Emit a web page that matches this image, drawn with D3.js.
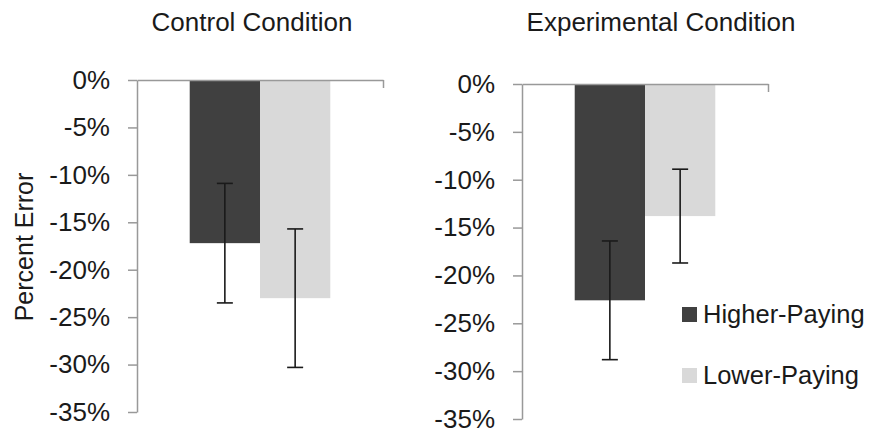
<!DOCTYPE html>
<html>
<head>
<meta charset="utf-8">
<script src="https://cdn.jsdelivr.net/npm/d3@7"></script>
<style>
  body { margin: 0; background: #fff; }
  svg { display: block; font-family: "Liberation Sans", Arial, sans-serif; }
</style>
</head>
<body>
<svg id="chart" width="872" height="430"></svg>
<script>
(function() {
  'use strict';

  // data (percent error)
  var conditions = ['Control Condition', 'Experimental Condition'];
  var groups = ['Higher-Paying', 'Lower-Paying'];
  var means = [[-17.2, -23.0], [-22.6, -13.8]];
  var errors = [[6.3, 7.3], [6.2, 4.9]];
  var yTicks = [0, -5, -10, -15, -20, -25, -30, -35];
  var colors = ['#404040', '#d9d9d9'];

  // panel layout
  var panels = [
    {left: 137, right: 383, top: 80, bottom: 412, titleX: 252},
    {left: 522, right: 768, top: 84, bottom: 419, titleX: 661}
  ];

  var svg = d3.select('#chart');

  var color = d3.scaleOrdinal().domain(groups).range(colors);

  panels.forEach(function(p, ci) {
    var y = d3.scaleLinear().domain([-35, 0]).range([p.bottom, p.top]);
    var x = d3.scaleBand().domain(groups).range([p.left, p.right])
        .paddingInner(0).paddingOuter(0.75);
    var g = svg.append('g');

    // title
    g.append('text')
        .attr('x', p.titleX)
        .attr('y', 31)
        .attr('text-anchor', 'middle')
        .attr('fill', '#1a1a1a')
        .style('font-size', '26px')
        .text(conditions[ci]);

    // bars
    g.selectAll('rect.bar')
        .data(groups)
      .enter().append('rect')
        .attr('class', 'bar')
        .attr('x', function(d) { return x(d); })
        .attr('width', x.bandwidth())
        .attr('y', y(0))
        .attr('height', function(d, i) { return y(means[ci][i]) - y(0); })
        .attr('fill', function(d) { return color(d); });

    // y axis
    var yAxis = g.append('g')
        .attr('transform', 'translate(' + p.left + ',0)')
        .call(d3.axisLeft(y).tickValues(yTicks)
          .tickSizeInner(9).tickSizeOuter(0).tickPadding(18)
          .tickFormat(function(d) { return d + '%'; }));
    yAxis.select('.domain').attr('stroke', '#999').attr('stroke-width', 1.5);
    yAxis.selectAll('.tick line').attr('stroke', '#999').attr('stroke-width', 1.5);
    yAxis.selectAll('.tick text')
        .attr('fill', '#1a1a1a')
        .style('font-size', '26px')
        .style('font-family', '"Liberation Sans", Arial, sans-serif');

    // category axis along 0%
    var xEdge = d3.scaleLinear().domain([0, 1]).range([p.left, p.right]);
    var xAxis = g.append('g')
        .attr('transform', 'translate(0,' + y(0) + ')')
        .call(d3.axisBottom(xEdge).tickValues([1]).tickSizeInner(8)
          .tickSizeOuter(0).tickFormat(''));
    xAxis.select('.domain').attr('stroke', '#999').attr('stroke-width', 1.5);
    xAxis.selectAll('.tick line').attr('stroke', '#999').attr('stroke-width', 1.5);

    // error bars
    var cap = 8;
    var eb = g.selectAll('g.err')
        .data(groups)
      .enter().append('g')
        .attr('class', 'err')
        .attr('stroke', '#1a1a1a')
        .attr('stroke-width', 1.6);
    eb.append('line')
        .attr('x1', function(d) { return x(d) + x.bandwidth() / 2; })
        .attr('x2', function(d) { return x(d) + x.bandwidth() / 2; })
        .attr('y1', function(d, i) { return y(means[ci][i] + errors[ci][i]); })
        .attr('y2', function(d, i) { return y(means[ci][i] - errors[ci][i]); });
    [1, -1].forEach(function(s) {
      eb.append('line')
          .attr('x1', function(d) { return x(d) + x.bandwidth() / 2 - cap; })
          .attr('x2', function(d) { return x(d) + x.bandwidth() / 2 + cap; })
          .attr('y1', function(d, i) { return y(means[ci][i] + s * errors[ci][i]); })
          .attr('y2', function(d, i) { return y(means[ci][i] + s * errors[ci][i]); });
    });
  });

  // y axis title
  svg.append('text')
      .attr('transform', 'translate(33,247) rotate(-90)')
      .attr('text-anchor', 'middle')
      .attr('fill', '#1a1a1a')
      .style('font-size', '25px')
      .text('Percent Error');

  // legend
  var legend = svg.selectAll('g.legend')
      .data(groups)
    .enter().append('g')
      .attr('class', 'legend')
      .attr('transform', function(d, i) { return 'translate(682,' + (307 + i * 61) + ')'; });
  legend.append('rect')
      .attr('width', 15)
      .attr('height', 15)
      .attr('fill', function(d) { return color(d); });
  legend.append('text')
      .attr('x', 21)
      .attr('y', 16)
      .attr('fill', '#1a1a1a')
      .style('font-size', '25.5px')
      .text(function(d) { return d; });
}());
</script>
</body>
</html>
